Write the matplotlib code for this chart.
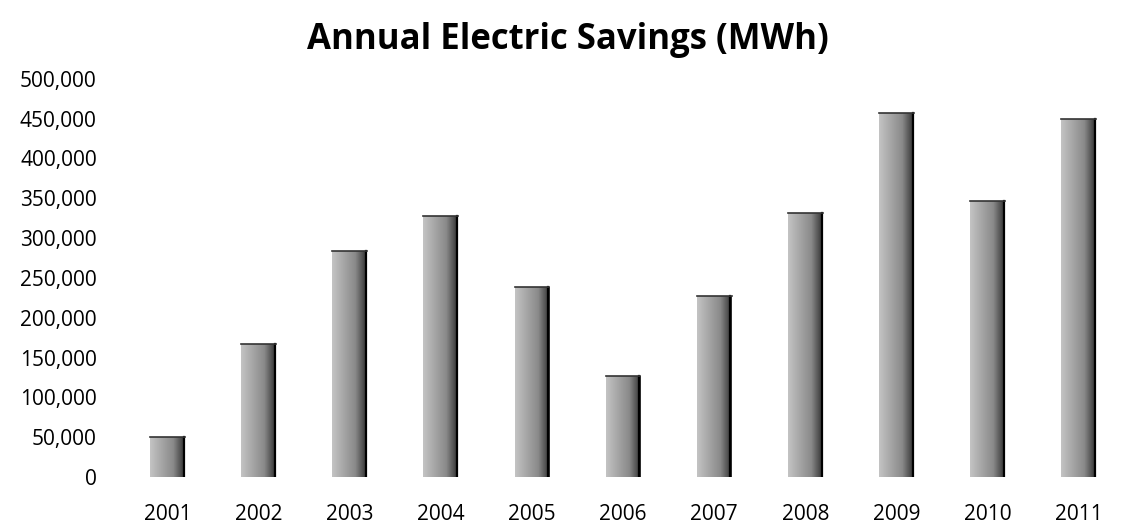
import numpy as np
import matplotlib.pyplot as plt
from matplotlib.colors import LinearSegmentedColormap

# dados
anos = ['2001', '2002', '2003', '2004', '2005', '2006', '2007', '2008', '2009', '2010', '2011']
economia_mwh = [50000, 167000, 284000, 328000, 239000, 127000, 227000, 332000, 457000, 347000, 450000]
yticks = [0, 50000, 100000, 150000, 200000, 250000, 300000, 350000, 400000, 450000, 500000]

fig = plt.figure(figsize=(11.38, 5.29), dpi=100)
ax = fig.add_axes([0.107, 0.098, 0.881, 0.753])

x = np.arange(len(anos))
largura = 0.38
bars = ax.bar(x, economia_mwh, width=largura, color='none', edgecolor='none', zorder=2)

# degradê cinza (claro à esquerda, escuro à direita), como no original
cmap = LinearSegmentedColormap.from_list('cinza', ['#c4c4c4', '#a6a6a6', '#8a8a8a', '#303030'])
grad = np.linspace(0, 1, 256).reshape(1, -1)
for b in bars:
    bx, by = b.get_x(), b.get_y()
    w, h = b.get_width(), b.get_height()
    im = ax.imshow(grad, cmap=cmap, aspect='auto', extent=[bx, bx + w, by, by + h], zorder=2)
    im.set_clip_path(b)
    ax.plot([bx + w * 0.97, bx + w * 0.97], [by, by + h], color='black', lw=1.6, zorder=3)
    ax.plot([bx, bx + w], [by + h, by + h], color='#333333', lw=1.2, zorder=3)

ax.set_xlim(-0.5, len(anos) - 0.5)
ax.set_ylim(0, 500000)
ax.set_xticks(x)
ax.set_xticklabels(anos)
ax.set_yticks(yticks)
ax.set_yticklabels([f'{v:,}' for v in yticks])
ax.tick_params(length=0, labelsize=15)
ax.tick_params(axis='x', pad=19)
ax.tick_params(axis='y', pad=18)
for lbl in ax.get_xticklabels() + ax.get_yticklabels():
    lbl.set_fontfamily('Open Sans')
for s in ax.spines.values():
    s.set_visible(False)

fig.text(0.499, 0.925, 'Annual Electric Savings (MWh)', ha='center', va='center',
         fontsize=25, fontweight='bold', fontfamily='Open Sans')

plt.savefig('out.png', dpi=100)
